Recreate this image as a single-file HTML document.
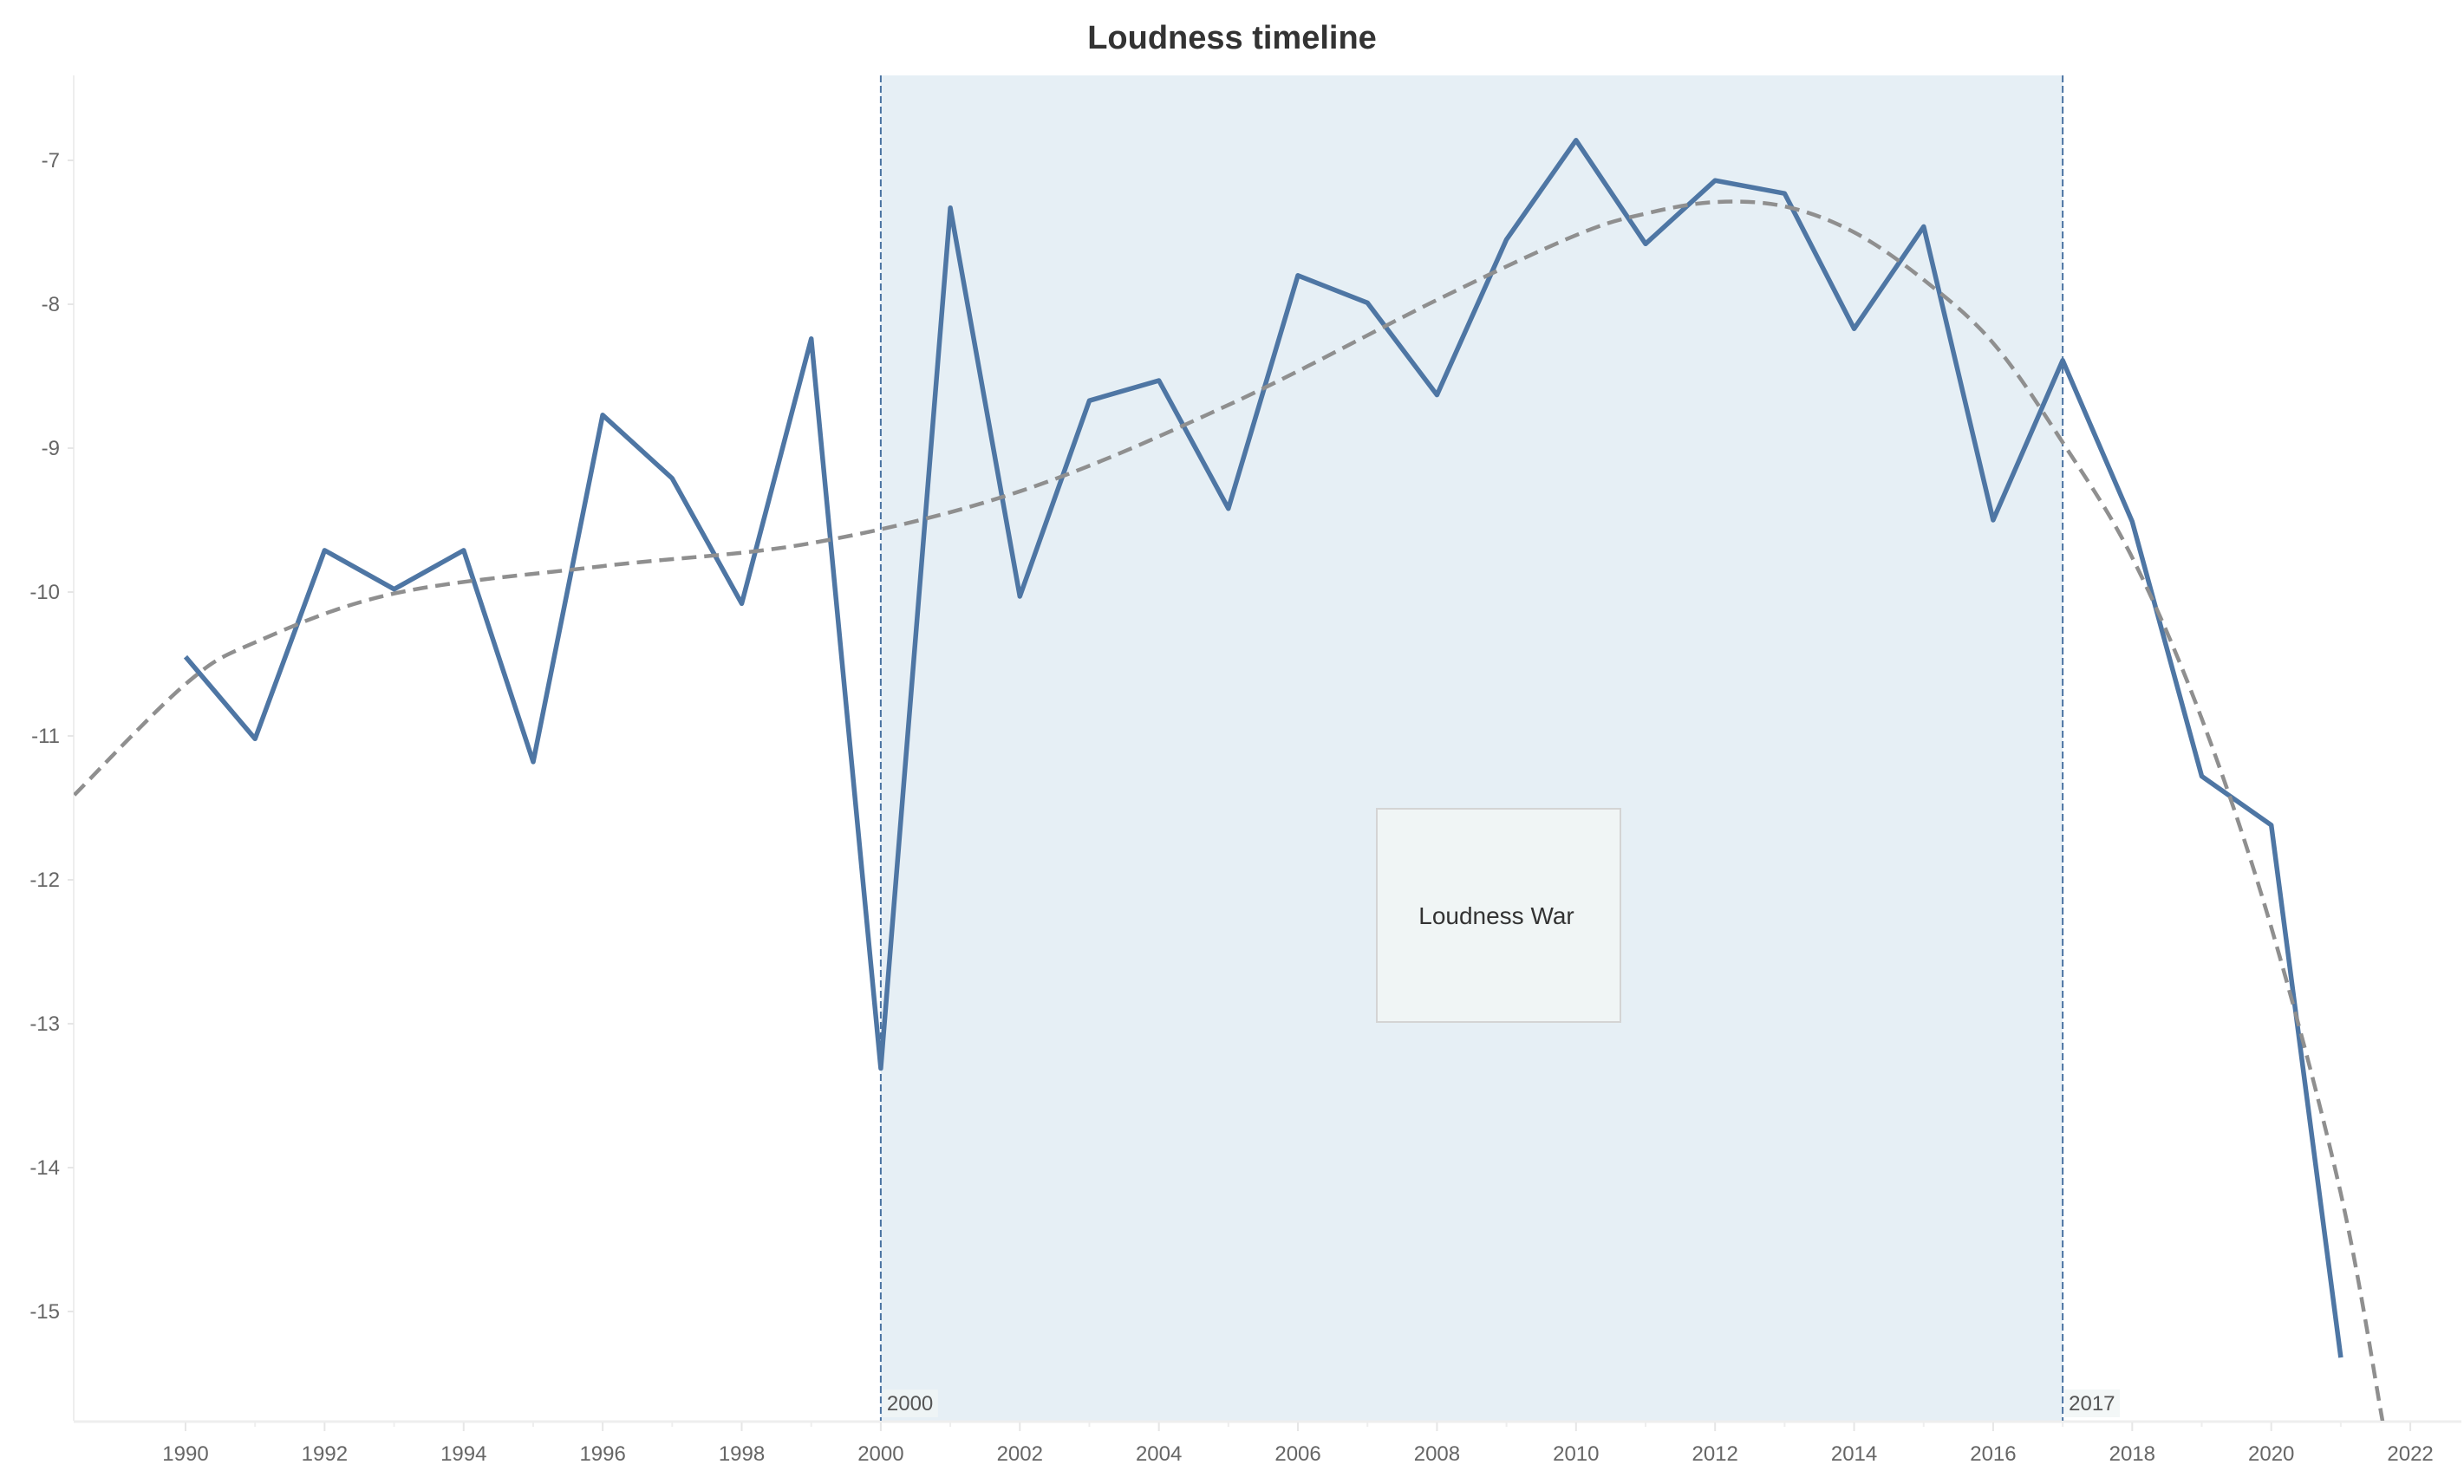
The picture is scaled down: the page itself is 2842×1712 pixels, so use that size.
<!DOCTYPE html>
<html><head><meta charset="utf-8"><style>
html,body{margin:0;padding:0;background:#fff;width:2842px;height:1712px;overflow:hidden}
svg{display:block;font-family:"Liberation Sans",sans-serif}
</style></head><body>
<svg id="chart" width="2842" height="1712" viewBox="0 0 2842 1712" xmlns="http://www.w3.org/2000/svg">
<text x="1421" y="56" text-anchor="middle" font-size="38" font-weight="bold" fill="#333">Loudness timeline</text>
<g id="plot"></g>
</svg>
<script>
const years = [1990,1991,1992,1993,1994,1995,1996,1997,1998,1999,2000,2001,2002,2003,2004,2005,2006,2007,2008,2009,2010,2011,2012,2013,2014,2015,2016,2017,2018,2019,2020,2021];
const loudness = [-10.45,-11.02,-9.71,-9.98,-9.71,-11.18,-8.77,-9.21,-10.08,-8.24,-13.31,-7.33,-10.03,-8.67,-8.53,-9.42,-7.80,-7.99,-8.63,-7.55,-6.86,-7.58,-7.14,-7.23,-8.17,-7.46,-9.50,-8.39,-9.51,-11.28,-11.62,-15.32];
const trendYears = [1988.4,1990,1991,1993,1996,1999,2002,2005,2008,2010,2011,2012,2013,2014,2015,2016,2017,2018,2019,2020,2021,2021.6];
const trendValues = [-11.41,-10.64,-10.35,-10.01,-9.82,-9.66,-9.30,-8.70,-7.97,-7.52,-7.37,-7.29,-7.32,-7.50,-7.83,-8.27,-8.96,-9.76,-10.88,-12.33,-14.18,-15.76];
const yTicks = [-7,-8,-9,-10,-11,-12,-13,-14,-15];
const xTicks = [1990,1992,1994,1996,1998,2000,2002,2004,2006,2008,2010,2012,2014,2016,2018,2020,2022];
const bandStart = 2000, bandEnd = 2017;

const L=85,R=2809,T=87,B=1639;
const x = yr => 214 + (yr-1990)*80.19;
const y = v => 185 + (-7 - v)*166;
const NS="http://www.w3.org/2000/svg";
const g=document.getElementById('plot');
function mk(tag,attrs,parent){const e=document.createElementNS(NS,tag);for(const k in attrs)e.setAttribute(k,attrs[k]);(parent||g).appendChild(e);return e;}

const defs=mk('defs',{});
const cp=mk('clipPath',{id:'clip'},defs);
mk('rect',{x:L,y:T,width:R-L,height:B-T},cp);

const fr=mk('line',{x1:L,y1:T,x2:L,y2:B,stroke:'#eeeeee','stroke-width':2});



const band=mk('rect',{x:x(bandStart),y:T,width:x(bandEnd)-x(bandStart),height:B-T,fill:'#e6eff5'});



yTicks.forEach(v=>{
  const t=mk('line',{x1:L-7,x2:L,y1:y(v),y2:y(v),stroke:'#e6e6e6','stroke-width':2});
  
  
  const lb=mk('text',{x:L-16,y:y(v)+8,'text-anchor':'end','font-size':24,fill:'#666'});
  lb.textContent=String(v);
  
  
});
const xa=mk('line',{x1:L,x2:R+30,y1:B+1,y2:B+1,stroke:'#eeeeee','stroke-width':3});


xTicks.forEach(v=>{
  const t=mk('line',{x1:x(v),x2:x(v),y1:B+2,y2:B+12,stroke:'#e6e6e6','stroke-width':2});
  
  
  const m=mk('line',{x1:x(v+1),x2:x(v+1),y1:B+2,y2:B+7,stroke:'#eeeeee','stroke-width':2});
  
  
  const lb=mk('text',{x:x(v),y:B+46,'text-anchor':'middle','font-size':24,fill:'#666'});
  lb.textContent=String(v);
  
  
});

[bandStart,bandEnd].forEach(v=>{
  const rl=mk('line',{x1:x(v),x2:x(v),y1:T,y2:B,stroke:'#4a73a2','stroke-width':2,'stroke-dasharray':'8,4'});
  
  
  const bg=mk('rect',{x:x(v)+2,y:B-36,width:64,height:32,fill:'#f0f5f5','fill-opacity':0.8});
  
  
  const lb=mk('text',{x:x(v)+7,y:B-12,'font-size':24,fill:'#555'});
  lb.textContent=String(v);
  
  
});

const ab=mk('rect',{x:1588,y:933,width:281,height:246,fill:'#f0f5f5',stroke:'#d4d4d4','stroke-width':2});


const at=mk('text',{x:1726,y:1066,'text-anchor':'middle','font-size':28,fill:'#333'});
at.textContent='Loudness War';



const pts=years.map((yr,i)=>x(yr).toFixed(1)+','+y(loudness[i]).toFixed(1)).join(' ');
const ml=mk('polyline',{points:pts,fill:'none',stroke:'#4e76a4','stroke-width':5.5,'stroke-linejoin':'round','clip-path':'url(#clip)'});



const P=trendYears.map((yr,i)=>[x(yr),y(trendValues[i])]);
let d='M'+P[0][0].toFixed(1)+','+P[0][1].toFixed(1);
for(let i=0;i<P.length-1;i++){
  const p0=P[Math.max(0,i-1)],p1=P[i],p2=P[i+1],p3=P[Math.min(P.length-1,i+2)];
  const c1=[p1[0]+(p2[0]-p0[0])/6,p1[1]+(p2[1]-p0[1])/6];
  const c2=[p2[0]-(p3[0]-p1[0])/6,p2[1]-(p3[1]-p1[1])/6];
  d+=' C'+c1.map(n=>n.toFixed(1)).join(',')+' '+c2.map(n=>n.toFixed(1)).join(',')+' '+p2[0].toFixed(1)+','+p2[1].toFixed(1);
}
const tl=mk('path',{d:d,fill:'none',stroke:'#8f8f8f','stroke-width':4.5,'stroke-dasharray':'17,9','clip-path':'url(#clip)'});


</script>
</body></html>
